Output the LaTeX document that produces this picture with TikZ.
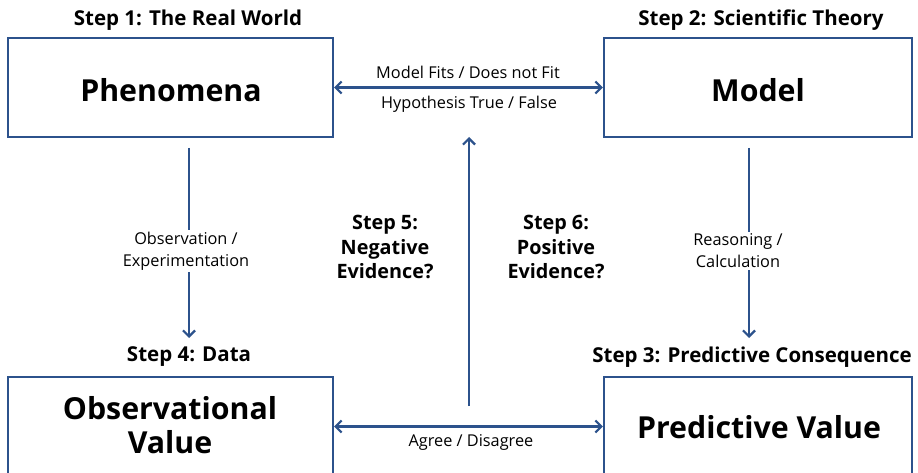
\documentclass[tikz,border=0pt]{standalone}
\usepackage{fontspec}
\setmainfont{Open Sans}
\usetikzlibrary{arrows.meta}
\definecolor{ln}{RGB}{44,82,140}
\tikzset{
  box/.style={draw=ln, line width=2.2pt, minimum width=325pt, minimum height=99pt, inner sep=0pt},
  big/.style={font=\fontsize{30.3}{34}\selectfont\bfseries, align=center},
  title/.style={font=\fontsize{20.5}{22}\selectfont\bfseries},
  small/.style={font=\fontsize{16.3}{22}\selectfont, align=center},
  mid/.style={font=\fontsize{19.8}{24.5}\selectfont\bfseries, align=center},
  conn/.style={draw=ln, line width=2.5pt},
  tip/.style={-{Straight Barb[length=6pt,width=12pt,line width=2.2pt]}},
  tips/.style={{Straight Barb[length=6pt,width=12pt,line width=2.2pt]}-{Straight Barb[length=6pt,width=12pt,line width=2.2pt]}},
}
\begin{document}
\begin{tikzpicture}[x=1pt,y=-1pt]
\useasboundingbox (0,0) rectangle (918,473);
\clip (0,0) rectangle (918,473);
\fill[white] (0,0) rectangle (918,473);
% boxes
\node[box] (phen) at (170.5,87.5) {};
\node[box, minimum width=308pt] (model) at (758,87.5) {};
\node[box] (obs) at (170.5,426.5) {};
\node[box, minimum width=308pt] (pred) at (758,426.5) {};
% box texts
\node[big] (tphen) at (171,90) {Phenomena};
\node[big] (tmodel) at (758,90) {Model};
\node[big] (tobs) at (170,425) {Observational\\Value};
\node[big] (tpred) at (759,427) {Predictive Value};
% titles
\node[title] (s1) at (188,20) {Step 1: The Real World};
\node[title] (s2) at (761,20) {Step 2: Scientific Theory};
\node[title] (s4) at (189,357) {Step 4: Data};
\node[title] (s3) at (752,357) {Step 3: Predictive Consequence};
% connectors
\coordinate (l1) at (189,148);
\coordinate (l2) at (189,338);
\coordinate (r1) at (749,148);
\coordinate (r2) at (749,338);
\coordinate (c1) at (469,406);
\coordinate (c2) at (469,137);
\draw[conn, tip] (l1) -- (l2);
\draw[conn, tip] (r1) -- (r2);
\draw[conn, tip] (c1) -- (c2);
\draw[conn, tips] (phen.east) -- (model.west);
\draw[conn, tips] (obs.east) -- (pred.west);
% labels
\node[small, fill=white, inner sep=2pt] (lobs) at (186,251) {Observation /\\Experimentation};
\node[small, fill=white, inner sep=2pt] (lreas) at (738,251) {Reasoning /\\Calculation};
\node[small] (lfit) at (468,72) {Model Fits / Does not Fit};
\node[small] (lhyp) at (469,104) {Hypothesis True / False};
\node[small] (lagr) at (471,442) {Agree / Disagree};
\node[mid] (n5) at (385,247) {Step 5:\\Negative\\Evidence?};
\node[mid] (n6) at (556,247) {Step 6:\\Positive\\Evidence?};
\end{tikzpicture}
\end{document}
